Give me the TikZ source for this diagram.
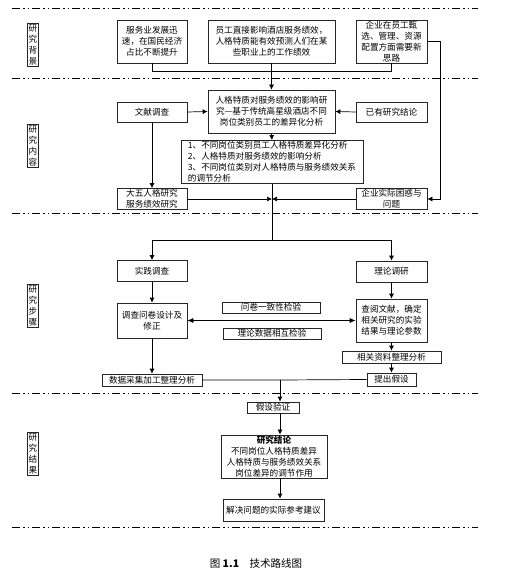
\documentclass[tikz,border=0pt]{standalone}
\usepackage{fontspec}
\setmainfont{Noto Sans CJK SC}
\usetikzlibrary{arrows.meta}
\begin{document}
\begin{tikzpicture}[x=1pt,y=-1pt,
	box/.style={draw=black!85,line width=0.7pt,align=center,inner sep=1pt,font=\fontsize{8.6}{11}\selectfont},
	sidebox/.style={draw=black!85,line width=0.7pt,align=center,inner sep=1.5pt,font=\fontsize{8.6}{11}\selectfont},
	arr/.style={-{Latex[length=5pt,width=5pt]},line width=0.7pt},
	ln/.style={line width=0.7pt},
	sep/.style={line width=0.9pt,dash pattern=on 8pt off 3pt on 1.5pt off 3pt on 1.5pt off 3pt}]
	\useasboundingbox (0,0) rectangle (521,569);
	\draw [sep] (12,8)--(478,8);
	\draw [sep] (12,78)--(478,78);
	\draw [sep] (12,213)--(478,213);
	\draw [sep] (12,393)--(478,393);
	\draw [sep] (12,527)--(478,527);
	\node [sidebox] (bj) at (33,45) {研\\究\\背\\景};
	\node [sidebox] (nr) at (33,146) {研\\究\\内\\容};
	\node [sidebox] (bz) at (33,306) {研\\究\\步\\骤};
	\node [sidebox] (jg) at (33,454) {研\\究\\结\\果};
	\node [box,minimum width=70,minimum height=43] (fwy) at (152,41.5) {服务业发展迅\\速，在国民经济\\占比不断提升};
	\node [box,minimum width=127,minimum height=43] (ygzj) at (271.5,41.5) {员工直接影响酒店服务绩效，\\人格特质能有效预测人们在某\\些职业上的工作绩效};
	\node [box,minimum width=71,minimum height=43] (qyyg) at (391.5,41.5) {企业在员工甄\\选、管理、资源\\配置方面需要新\\思路};
	\node [box,minimum width=70,minimum height=20] (wxdc) at (152,112) {文献调查};
	\node [box,minimum width=127,minimum height=43] (zt) at (271.5,111.5) {人格特质对服务绩效的影响研\\究—基于传统高星级酒店不同\\岗位类别员工的差异化分析};
	\node [box,minimum width=71,minimum height=20] (yyjl) at (391.5,112) {已有研究结论};
	\node [box,minimum width=182,minimum height=42,align=left] (yjnr) at (272,162) {1、不同岗位类别员工人格特质差异化分析\\2、人格特质对服务绩效的影响分析\\3、不同岗位类别对人格特质与服务绩效关系\\的调节分析};
	\node [box,minimum width=70,minimum height=21] (dwrg) at (152,199) {大五人格研究\\服务绩效研究};
	\node [box,minimum width=71,minimum height=21] (sjkh) at (391.5,199) {企业实际困惑与\\问题};
	\node [box,minimum width=70,minimum height=21] (sjdc) at (152,271) {实践调查};
	\node [box,minimum width=71,minimum height=21] (llty) at (391.5,271.5) {理论调研};
	\node [box,minimum width=70,minimum height=35] (wjsj) at (152,320.5) {调查问卷设计及\\修正};
	\node [box,minimum width=71,minimum height=43] (cywx) at (391.5,320.5) {查阅文献，确定\\相关研究的实验\\结果与理论参数};
	\node [box,minimum width=98,minimum height=11] (yzx) at (271,307.5) {问卷一致性检验};
	\node [box,minimum width=98,minimum height=11] (xhjy) at (272,333.5) {理论数据相互检验};
	\node [box,minimum width=99,minimum height=12] (zlfx) at (391.5,357) {相关资料整理分析};
	\node [box,minimum width=49,minimum height=13] (tcjs) at (391.5,379.5) {提出假设};
	\node [box,minimum width=100,minimum height=12] (sjcj) at (152,380) {数据采集加工整理分析};
	\node [box,minimum width=52,minimum height=11] (jsyz) at (273,407.5) {假设验证};
	\node [box,minimum width=106,minimum height=43] (yjjl) at (274,456.5) {\textbf{研究结论}\\不同岗位人格特质差异\\人格特质与服务绩效关系\\岗位差异的调节作用};
	\node [box,minimum width=101,minimum height=22] (jjjy) at (273.5,510) {解决问题的实际参考建议};
	\node [font=\fontsize{10.5}{12}\selectfont] (tm) at (256,563) {图 \textbf{1.1}\quad 技术路线图};
	\coordinate (fz) at (272,240);
	\coordinate (hz) at (280,380);
	\draw [ln] (fwy.south)--++(0,8) -| (qyyg.south);
	\draw [arr] (ygzj.south)--(zt.north);
	\draw [arr] (qyyg.east)--++(13,0) |- (sjkh.east);
	\draw [arr] (wxdc.east)--(zt.west);
	\draw [arr] (yyjl.west)--(zt.east);
	\draw [arr] (zt.south)--(yjnr.north);
	\draw [arr] (wxdc.south)--(dwrg.north);
	\draw [ln] (yjnr.south)--(fz);
	\draw [arr] (dwrg.east)--(dwrg.east -| fz);
	\draw [arr] (sjkh.west)--(sjkh.west -| fz);
	\draw [arr] (fz) -| (sjdc.north);
	\draw [arr] (fz) -| (llty.north);
	\draw [arr] (sjdc.south)--(wjsj.north);
	\draw [arr] (llty.south)--(cywx.north);
	\draw [{Latex[length=6pt,width=5pt]}-{Latex[length=6pt,width=5pt]},line width=0.7pt] (wjsj.east)--(cywx.west);
	\draw [arr] (cywx.south)--(zlfx.north);
	\draw [arr] (zlfx.south)--(tcjs.north);
	\draw [arr] (wjsj.south)--(sjcj.north);
	\draw [ln] (sjcj.east)--(hz)--(tcjs.west);
	\draw [arr] (hz)--(hz |- jsyz.north);
	\draw [arr] (jsyz.south -| hz)--(yjjl.north -| hz);
	\draw [arr] (yjjl.south -| hz)--(jjjy.north -| hz);
\end{tikzpicture}
\end{document}
